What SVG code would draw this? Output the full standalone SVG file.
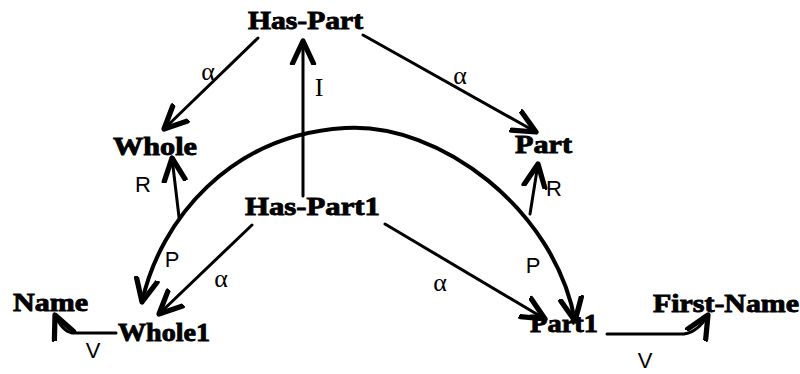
<svg xmlns="http://www.w3.org/2000/svg" width="800" height="374" viewBox="0 0 800 374">
<defs>
<style>
.node{font-family:"Liberation Serif",serif;font-weight:bold;font-size:26px;fill:#000;stroke:#000;stroke-width:0.9}
.lbl{font-family:"Liberation Sans",sans-serif;font-size:22px;fill:#000}
.lbls{font-family:"Liberation Serif",serif;font-size:26px;fill:#000}
.edge{fill:none;stroke:#000;stroke-width:3;stroke-linecap:round;marker-end:url(#ah)}
.arc{fill:none;stroke:#000;stroke-width:4;stroke-linecap:round}
</style>
<marker id="ah" markerUnits="userSpaceOnUse" markerWidth="30" markerHeight="30" viewBox="-16 -10 20 20" refX="0" refY="0" orient="auto">
<path d="M-15,-7 L0,0 L-15,7" fill="none" stroke="#000" stroke-width="3.5" stroke-linecap="round" stroke-linejoin="round"/>
</marker>
<marker id="ahs" markerUnits="userSpaceOnUse" markerWidth="30" markerHeight="30" viewBox="-16 -10 20 20" refX="0" refY="0" orient="auto-start-reverse">
<path d="M-15,-7 L0,0 L-15,7" fill="none" stroke="#000" stroke-width="3.5" stroke-linecap="round" stroke-linejoin="round"/>
</marker>
</defs>
<g id="connectors">
<path class="edge" d="M258,38 L164,129"/>
<path class="edge" d="M363,35 L536,132"/>
<path class="edge" d="M303,196 L303,41"/>
<path class="arc" marker-start="url(#ahs)" marker-end="url(#ahs)" d="M142,302 C160,220 230,135 345,128 C440,122 555,210 575,321"/>
<path class="edge" d="M179,217 L172,158"/>
<path class="edge" d="M530,214 L538,164"/>
<path class="edge" d="M252,225 L159,314"/>
<path class="edge" d="M385,224 L545,319"/>
<path class="edge" d="M116,333 L72,333 Q62,331 55,315"/>
<path class="edge" d="M607,334 L684,334 Q698,332 708,315"/>
<text class="lbls" x="208" y="80" text-anchor="middle">α</text>
<text class="lbls" x="460" y="84" text-anchor="middle">α</text>
<text class="lbls" x="319" y="96" text-anchor="middle">I</text>
<text class="lbl" x="143" y="192" text-anchor="middle">R</text>
<text class="lbl" x="554" y="196" text-anchor="middle">R</text>
<text class="lbl" x="172" y="267" text-anchor="middle">P</text>
<text class="lbl" x="533" y="273" text-anchor="middle">P</text>
<text class="lbls" x="221" y="287" text-anchor="middle">α</text>
<text class="lbls" x="440" y="291" text-anchor="middle">α</text>
<text class="lbl" x="93" y="358" text-anchor="middle">V</text>
<text class="lbl" x="645" y="368" text-anchor="middle">V</text>
</g>
<g id="has-part"><text class="node" x="248" y="29" textLength="115" lengthAdjust="spacingAndGlyphs">Has-Part</text></g>
<g id="whole"><text class="node" x="113" y="155" textLength="84" lengthAdjust="spacingAndGlyphs">Whole</text></g>
<g id="part"><text class="node" x="515" y="153" textLength="57" lengthAdjust="spacingAndGlyphs">Part</text></g>
<g id="has-part1"><text class="node" x="245" y="215" textLength="135" lengthAdjust="spacingAndGlyphs">Has-Part1</text></g>
<g id="name"><text class="node" x="13" y="311" textLength="75" lengthAdjust="spacingAndGlyphs">Name</text></g>
<g id="whole1"><text class="node" x="118" y="341" textLength="92" lengthAdjust="spacingAndGlyphs">Whole1</text></g>
<g id="part1"><text class="node" x="530" y="332" textLength="68" lengthAdjust="spacingAndGlyphs">Part1</text></g>
<g id="first-name"><text class="node" x="653" y="312" textLength="146" lengthAdjust="spacingAndGlyphs">First-Name</text></g>
</svg>
